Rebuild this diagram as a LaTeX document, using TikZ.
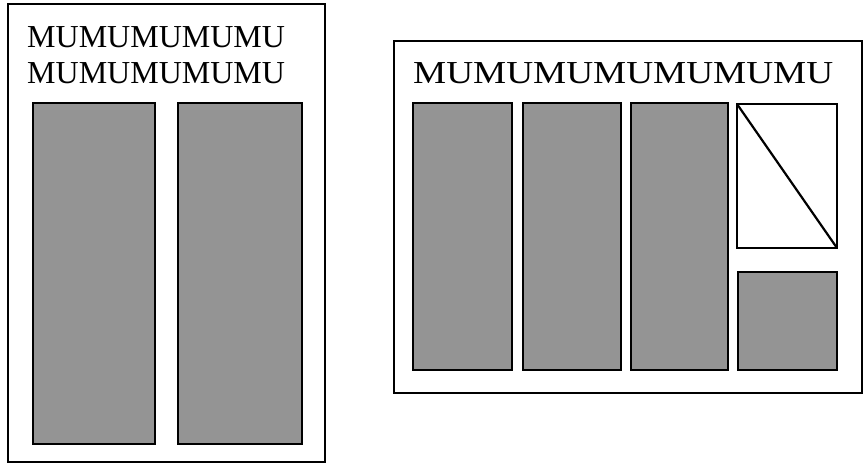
\documentclass[tikz,border=0pt]{standalone}
\usepackage{fontspec}
\setmainfont{Liberation Serif}
\begin{document}
\begin{tikzpicture}[x=1pt, y=-1pt, every node/.style={font=\fontsize{32}{36}\selectfont, inner sep=0pt, anchor=base west},
    frame/.style={draw, line width=1.8pt},
    block/.style={draw, line width=2.6pt, fill=black!42}]
        \useasboundingbox (0,0) rectangle (867,464);

        % left page
        \draw[frame] (8,4) rectangle (325,462);
        \node (lefttitle) at (27,47) {MUMUMUMUMU};
        \node (leftsub) at (27,83) {MUMUMUMUMU};
        \filldraw[block] (33,103) rectangle (155,444);
        \filldraw[block] (178,103) rectangle (302,444);

        % right page
        \draw[frame] (394,41) rectangle (862,393);
        \node (righttitle) at (413,83) {\scalebox{1.164}[1]{MUMUMUMUMUMUMU}};
        \filldraw[block] (413,103) rectangle (512,370);
        \filldraw[block] (523,103) rectangle (621,370);
        \filldraw[block] (631,103) rectangle (728,370);
        \draw[block, fill=white] (737,104) rectangle (837,248);
        \draw[line width=2.2pt] (737,104) -- (837,248);
        \filldraw[block] (738,272) rectangle (837,370);
    \end{tikzpicture}
\end{document}
